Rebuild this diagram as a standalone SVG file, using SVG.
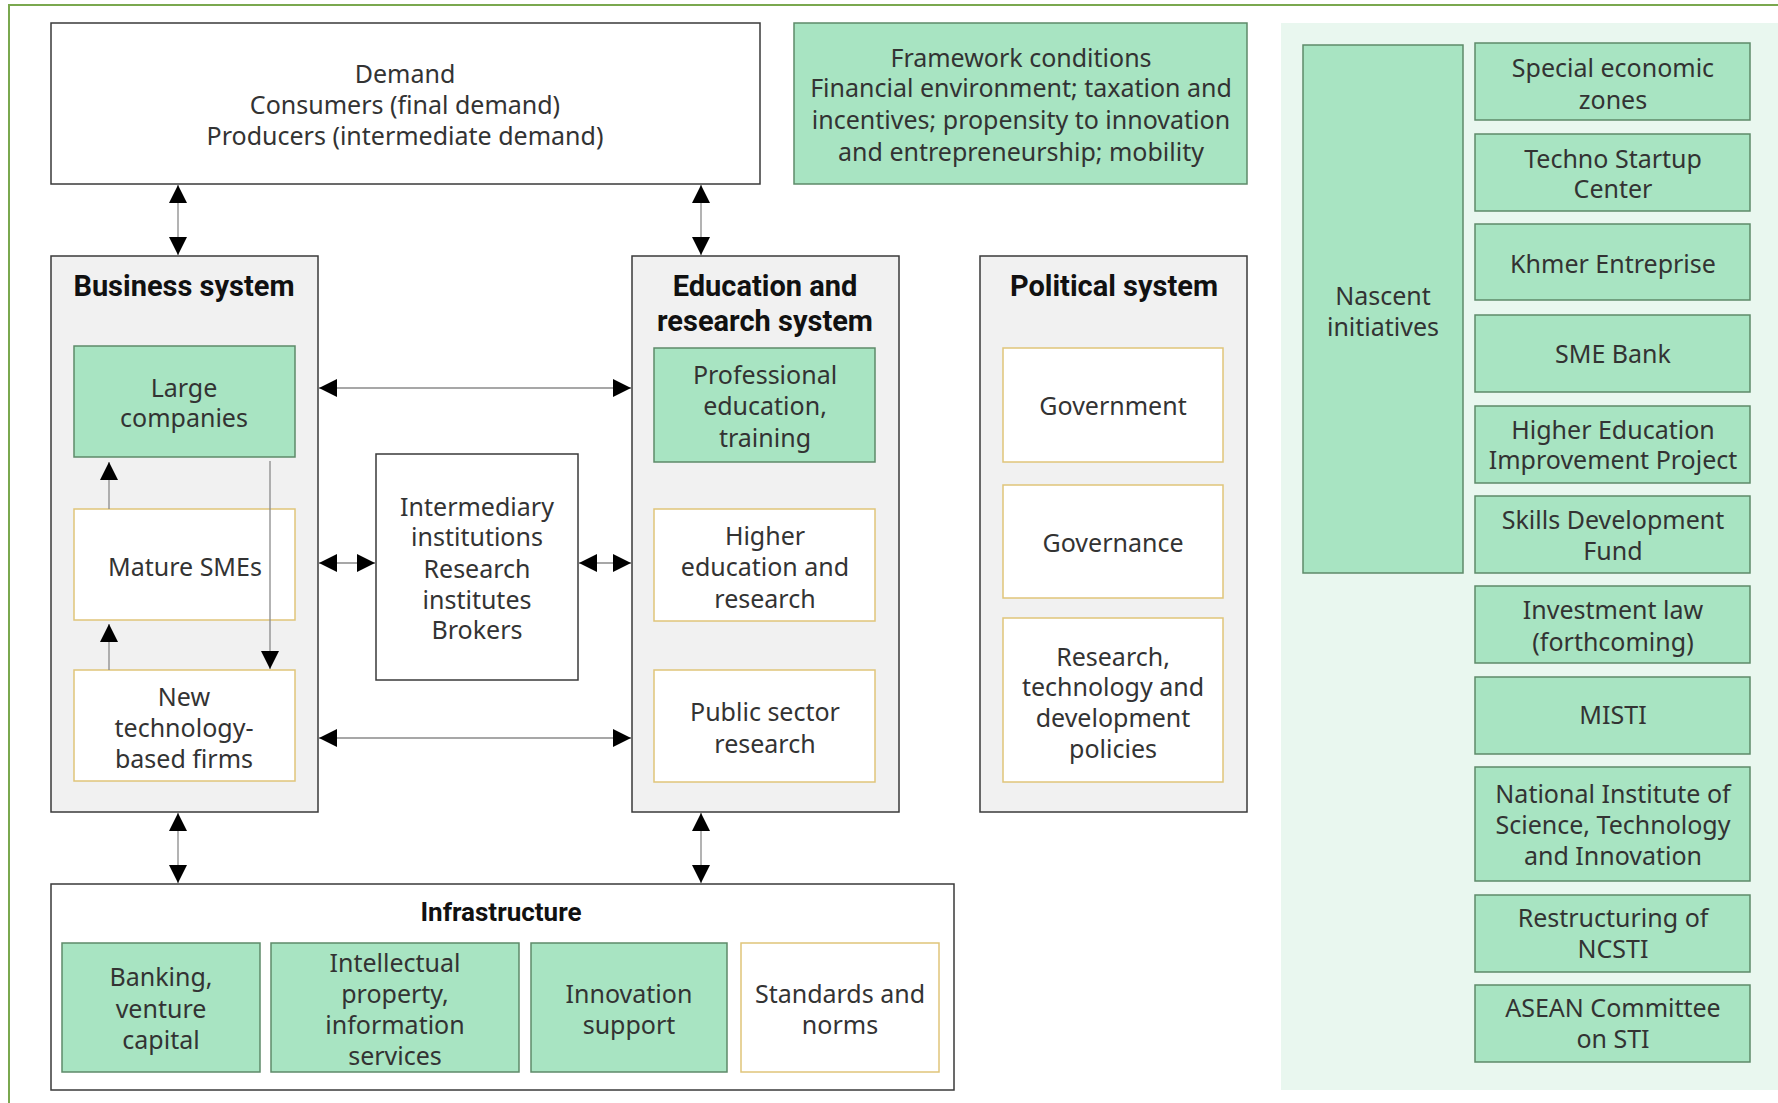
<svg xmlns="http://www.w3.org/2000/svg" width="1778" height="1103" viewBox="0 0 1778 1103">
<defs>
<marker id="ah" viewBox="0 0 18 18" markerUnits="userSpaceOnUse" markerWidth="18" markerHeight="18" refX="18" refY="9" orient="auto-start-reverse">
<path d="M0,0 L18,9 L0,18 z" fill="#000"/>
</marker>
<style>
.t{font-family:"Noto Sans","Open Sans",sans-serif;font-size:25px;fill:#333;text-anchor:middle;dominant-baseline:central}
.h{font-family:Roboto,"Liberation Sans",sans-serif;font-weight:bold;font-size:29px;fill:#111;text-anchor:middle;dominant-baseline:central}
.hi{font-size:26px}
.sys{fill:#f1f1f1;stroke:#3a3a3a;stroke-width:1.5}
.plain{fill:#fff;stroke:#3a3a3a;stroke-width:1.5}
.grn{fill:#a8e4c2;stroke:#5e8a69;stroke-width:1.5}
.wht{fill:#fff;stroke:#e0c57a;stroke-width:1.5}
.ln{stroke:#8a8a8a;stroke-width:1.3;fill:none;marker-end:url(#ah)}
.ln2{stroke:#8a8a8a;stroke-width:1.3;fill:none;marker-start:url(#ah);marker-end:url(#ah)}
</style>
</defs>
<rect x="0" y="0" width="1778" height="1103" fill="#fff"/>
<path d="M9,1103 V5 H1778" fill="none" stroke="#7aa84f" stroke-width="2"/>
<rect x="1281" y="23" width="497" height="1067" fill="#e9f7ef"/>

<g id="demand"><rect class="plain" x="51" y="23" width="709" height="161"/>
<text class="t" x="405" y="73">Demand</text><text class="t" x="405" y="104">Consumers (final demand)</text><text class="t" x="405" y="135">Producers (intermediate demand)</text></g>

<g id="framework"><rect class="grn" x="794" y="23" width="453" height="161"/>
<text class="t" x="1021" y="57">Framework conditions</text><text class="t" x="1021" y="87">Financial environment; taxation and</text><text class="t" x="1021" y="119">incentives; propensity to innovation</text><text class="t" x="1021" y="151">and entrepreneurship; mobility</text></g>

<g id="business"><rect class="sys" x="51" y="256" width="267" height="556"/>
<text class="h" x="184" y="286">Business system</text></g>
<g id="large"><rect class="grn" x="74" y="346" width="221" height="111"/>
<text class="t" x="184" y="387">Large</text><text class="t" x="184" y="417">companies</text></g>
<g id="mature"><rect class="wht" x="74" y="509" width="221" height="111"/>
<text class="t" x="185" y="566">Mature SMEs</text></g>
<g id="newtech"><rect class="wht" x="74" y="670" width="221" height="111"/>
<text class="t" x="184" y="696">New</text><text class="t" x="184" y="727">technology-</text><text class="t" x="184" y="758">based firms</text></g>

<g id="intermediary"><rect class="plain" x="376" y="454" width="202" height="226"/>
<text class="t" x="477" y="506">Intermediary</text><text class="t" x="477" y="536">institutions</text><text class="t" x="477" y="568">Research</text><text class="t" x="477" y="599">institutes</text><text class="t" x="477" y="629">Brokers</text></g>

<g id="education"><rect class="sys" x="632" y="256" width="267" height="556"/>
<text class="h" x="765" y="286">Education and</text><text class="h" x="765" y="321">research system</text></g>
<g id="professional"><rect class="grn" x="654" y="348" width="221" height="114"/>
<text class="t" x="765" y="374">Professional</text><text class="t" x="765" y="405">education,</text><text class="t" x="765" y="437">training</text></g>
<g id="higher"><rect class="wht" x="654" y="509" width="221" height="112"/>
<text class="t" x="765" y="535">Higher</text><text class="t" x="765" y="566">education and</text><text class="t" x="765" y="598">research</text></g>
<g id="public"><rect class="wht" x="654" y="670" width="221" height="112"/>
<text class="t" x="765" y="711">Public sector</text><text class="t" x="765" y="743">research</text></g>

<g id="political"><rect class="sys" x="980" y="256" width="267" height="556"/>
<text class="h" x="1114" y="286">Political system</text></g>
<g id="government"><rect class="wht" x="1003" y="348" width="220" height="114"/>
<text class="t" x="1113" y="405">Government</text></g>
<g id="governance"><rect class="wht" x="1003" y="485" width="220" height="113"/>
<text class="t" x="1113" y="542">Governance</text></g>
<g id="rtd"><rect class="wht" x="1003" y="618" width="220" height="164"/>
<text class="t" x="1113" y="656">Research,</text><text class="t" x="1113" y="686">technology and</text><text class="t" x="1113" y="717">development</text><text class="t" x="1113" y="748">policies</text></g>

<g id="infrastructure"><rect class="plain" x="51" y="884" width="903" height="206"/>
<text class="h hi" x="501" y="912">Infrastructure</text></g>
<g id="banking"><rect class="grn" x="62" y="943" width="198" height="129"/>
<text class="t" x="161" y="976">Banking,</text><text class="t" x="161" y="1008">venture</text><text class="t" x="161" y="1039">capital</text></g>
<g id="ip"><rect class="grn" x="271" y="943" width="248" height="129"/>
<text class="t" x="395" y="962">Intellectual</text><text class="t" x="395" y="993">property,</text><text class="t" x="395" y="1024">information</text><text class="t" x="395" y="1055">services</text></g>
<g id="innovation"><rect class="grn" x="531" y="943" width="196" height="129"/>
<text class="t" x="629" y="993">Innovation</text><text class="t" x="629" y="1024">support</text></g>
<g id="standards"><rect class="wht" x="741" y="943" width="198" height="129"/>
<text class="t" x="840" y="993">Standards and</text><text class="t" x="840" y="1024">norms</text></g>

<g id="nascent"><rect class="grn" x="1303" y="45" width="160" height="528"/>
<text class="t" x="1383" y="295">Nascent</text><text class="t" x="1383" y="326">initiatives</text></g>
<g id="sez"><rect class="grn" x="1475" y="43" width="275" height="77"/>
<text class="t" x="1613" y="67">Special economic</text><text class="t" x="1613" y="99">zones</text></g>
<g id="techno"><rect class="grn" x="1475" y="134" width="275" height="77"/>
<text class="t" x="1613" y="158">Techno Startup</text><text class="t" x="1613" y="188">Center</text></g>
<g id="khmer"><rect class="grn" x="1475" y="224" width="275" height="76"/>
<text class="t" x="1613" y="263">Khmer Entreprise</text></g>
<g id="smebank"><rect class="grn" x="1475" y="315" width="275" height="77"/>
<text class="t" x="1613" y="353">SME Bank</text></g>
<g id="heip"><rect class="grn" x="1475" y="406" width="275" height="77"/>
<text class="t" x="1613" y="429">Higher Education</text><text class="t" x="1613" y="459">Improvement Project</text></g>
<g id="skills"><rect class="grn" x="1475" y="496" width="275" height="77"/>
<text class="t" x="1613" y="519">Skills Development</text><text class="t" x="1613" y="550">Fund</text></g>
<g id="investment"><rect class="grn" x="1475" y="586" width="275" height="77"/>
<text class="t" x="1613" y="609">Investment law</text><text class="t" x="1613" y="641">(forthcoming)</text></g>
<g id="misti"><rect class="grn" x="1475" y="677" width="275" height="77"/>
<text class="t" x="1613" y="714">MISTI</text></g>
<g id="nisti"><rect class="grn" x="1475" y="767" width="275" height="114"/>
<text class="t" x="1613" y="793">National Institute of</text><text class="t" x="1613" y="824">Science, Technology</text><text class="t" x="1613" y="855">and Innovation</text></g>
<g id="ncsti"><rect class="grn" x="1475" y="895" width="275" height="77"/>
<text class="t" x="1613" y="917">Restructuring of</text><text class="t" x="1613" y="948">NCSTI</text></g>
<g id="asean"><rect class="grn" x="1475" y="985" width="275" height="77"/>
<text class="t" x="1613" y="1007">ASEAN Committee</text><text class="t" x="1613" y="1038">on STI</text></g>

<g id="connectors">
<line class="ln2" x1="178" y1="185" x2="178" y2="255"/>
<line class="ln2" x1="701" y1="185" x2="701" y2="255"/>
<line class="ln2" x1="178" y1="813" x2="178" y2="883"/>
<line class="ln2" x1="701" y1="813" x2="701" y2="883"/>
<line class="ln2" x1="319" y1="388" x2="631" y2="388"/>
<line class="ln2" x1="319" y1="738" x2="631" y2="738"/>
<line class="ln2" x1="319" y1="563" x2="375" y2="563"/>
<line class="ln2" x1="579" y1="563" x2="631" y2="563"/>
<line class="ln" x1="109" y1="509" x2="109" y2="462"/>
<line class="ln" x1="109" y1="670" x2="109" y2="624"/>
<line class="ln" x1="270" y1="461" x2="270" y2="669"/>
</g>
</svg>
